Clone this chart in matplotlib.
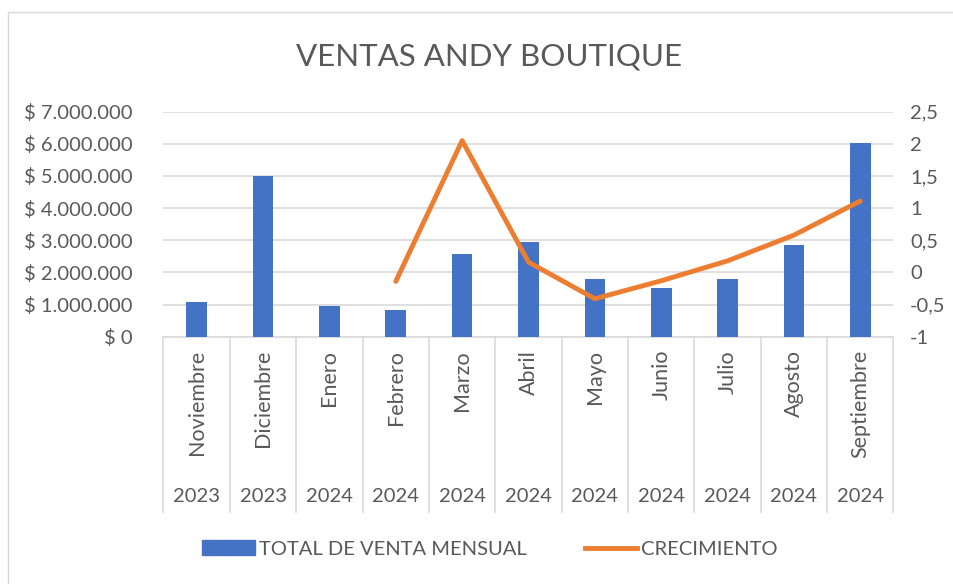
import matplotlib.pyplot as plt
import matplotlib.transforms as mtransforms
from matplotlib.patches import Patch, Rectangle
from matplotlib.lines import Line2D
import numpy as np

meses = ["Noviembre", "Diciembre", "Enero", "Febrero", "Marzo", "Abril",
         "Mayo", "Junio", "Julio", "Agosto", "Septiembre"]
anios = ["2023", "2023", "2024", "2024", "2024", "2024",
         "2024", "2024", "2024", "2024", "2024"]
ventas = [1070000, 4990000, 950000, 830000, 2570000, 2960000,
          1780000, 1530000, 1800000, 2860000, 6030000]
crecimiento = [np.nan, np.nan, np.nan, -0.14, 2.05, 0.16,
               -0.41, -0.13, 0.18, 0.58, 1.11]

left_ticks = [0, 1000000, 2000000, 3000000, 4000000, 5000000, 6000000, 7000000]
right_ticks = [-1, -0.5, 0, 0.5, 1, 1.5, 2, 2.5]

plt.rcParams['font.family'] = ['Lato', 'DejaVu Sans']
gris = '#595959'
W, H = 954, 584
fs = 14.5

fig = plt.figure(figsize=(W / 100, H / 100), dpi=100)
fig.patches.append(Rectangle((8 / W, -0.1), 1.2, 1 - 12 / H + 0.1, transform=fig.transFigure,
                             fill=False, edgecolor='#d9d9d9', linewidth=1))

ax = fig.add_axes([163.5 / W, 1 - 336.7 / H, 730 / W, 225 / H])
x = np.arange(len(meses))
ax.bar(x, ventas, width=0.31, color='#4472C4', zorder=3)
ax.set_xlim(-0.5, len(meses) - 0.5)
ax.set_ylim(0, 7000000)
ax.set_yticks(left_ticks)
ax.set_yticklabels(["$ 0" if v == 0 else "$ " + f"{v:,}".replace(",", ".") for v in left_ticks])
ax.tick_params(axis='y', length=0, pad=22, labelsize=fs, labelcolor=gris)
ax.set_xticks([])
ax.grid(axis='y', color='#d9d9d9', linewidth=1.2, zorder=0)
for s in ['left', 'right', 'top']:
    ax.spines[s].set_visible(False)
ax.spines['bottom'].set_color('#d9d9d9')
ax.spines['bottom'].set_linewidth(1.2)

ax2 = ax.twinx()
ax2.plot(x, crecimiento, color='#ED7D31', linewidth=3.5, solid_capstyle='round', zorder=4)
ax2.set_ylim(-1, 2.5)
ax2.set_yticks(right_ticks)
ax2.set_yticklabels([f"{v:g}".replace(".", ",") for v in right_ticks])
ax2.tick_params(axis='y', length=0, pad=12, labelsize=fs, labelcolor=gris)
for s in ax2.spines.values():
    s.set_visible(False)

# category area
tr = mtransforms.blended_transform_factory(ax.transData, fig.transFigure)
for b in np.arange(len(meses) + 1) - 0.5:
    ax.plot([b, b], [1 - 337 / H, 1 - 512 / H], color='#d9d9d9', linewidth=1.2,
            transform=tr, clip_on=False)
for i in x:
    ax.text(i, 1 - 350 / H, meses[i], rotation=90, ha='center', va='top',
            fontsize=15.5, color=gris, transform=tr)
    ax.text(i, 1 - 497 / H, anios[i], ha='center', va='center',
            fontsize=fs, color=gris, transform=tr)

fig.text(489 / W, 1 - 57 / H, "VENTAS ANDY BOUTIQUE", ha='center', va='center',
         fontsize=22.5, color=gris)

handles = [Patch(color='#4472C4'), Line2D([0], [0], color='#ED7D31', linewidth=3.5)]
fig.legend(handles, ["TOTAL DE VENTA MENSUAL", "CRECIMIENTO"], loc='center',
           bbox_to_anchor=(490 / W, 1 - 549 / H), ncol=2, frameon=False,
           fontsize=fs, labelcolor=gris, handlelength=2.6, handletextpad=0.2,
           columnspacing=2.9)

plt.savefig('out.png', dpi=100)
